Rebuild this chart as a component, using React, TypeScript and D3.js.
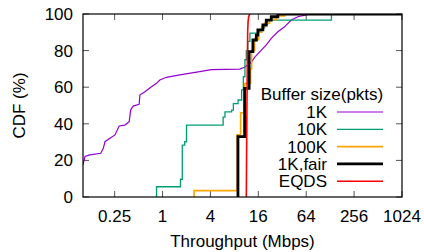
import React, { useEffect, useRef } from 'react';
import * as d3 from 'd3';

const xTicks = [0.25, 1, 4, 16, 64, 256, 1024];
const yTicks = [0, 20, 40, 60, 80, 100];

// [throughput (Mbps), CDF (%)]
const buf1K: [number, number][] = [
  [0.1, 17.5], [0.106, 22.2], [0.122, 23.0], [0.167, 23.9], [0.18, 26.6], [0.189, 30.2],
  [0.218, 32.1], [0.252, 33.9], [0.285, 38.8], [0.336, 39.3], [0.381, 41.2], [0.397, 47.5],
  [0.427, 49.7], [0.508, 50.6], [0.519, 55.7], [0.599, 57.5], [0.727, 60.3], [0.84, 62.1],
  [0.924, 63.9], [1.12, 65.4], [1.65, 66.7], [2.93, 68.5], [4.11, 69.6], [9.32, 69.9],
  [10.76, 70.9], [13.06, 73.6], [14.37, 76.3], [17.44, 80.3], [20.14, 83.1], [23.27, 86.7],
  [28.16, 90.3], [34.2, 93.0], [41.5, 96.7], [50.2, 98.5], [63.9, 99.5], [70.3, 100], [1024, 100],
];

const buf10K: [number, number][] = [
  [0.84, 0], [0.84, 5.6], [1.68, 9.7], [1.77, 28.4], [1.9, 30.2], [2.0, 39.3], [5.78, 43.6],
  [6.09, 46.5], [7.39, 47.5], [7.77, 51], [8.9, 53], [9.87, 58.5], [10.37, 65.7], [10.86, 75],
  [11.3, 80], [11.8, 85], [12.54, 89.6], [15.98, 90.3], [17.59, 92.5], [19.17, 94.5],
  [20.9, 96.7], [132.8, 100], [1024, 100],
];

const buf100K: [number, number][] = [
  [2.49, 0], [2.49, 3.5], [8.67, 34], [9.59, 46], [10.76, 62], [12.8, 70], [13.18, 80],
  [14.37, 86], [16.13, 90], [17.59, 93], [19.17, 95], [22.15, 97], [27.1, 99], [34.2, 100],
  [1024, 100],
];

const buf1KFair: [number, number][] = [
  [8.87, 0], [8.87, 33], [10.76, 59.4], [12.26, 79.4], [13.68, 85.8], [15.09, 88.5],
  [15.8, 91.3], [18.26, 94], [20.14, 96.7], [23.27, 98.5], [28.16, 100], [1024, 100],
];

const eqds: [number, number][] = [
  [11.3, 0], [11.5, 50], [11.75, 90], [11.9, 96], [12.1, 98.5], [12.45, 100],
];

const series = [
  { name: '1K', data: buf1K, color: '#9400d3', width: 1.2, step: false },
  { name: '10K', data: buf10K, color: '#009e73', width: 1.3, step: true },
  { name: '100K', data: buf100K, color: '#ffa500', width: 1.6, step: true },
  { name: '1K,fair', data: buf1KFair, color: '#000000', width: 2.8, step: true },
  { name: 'EQDS', data: eqds, color: '#ff0000', width: 1.6, step: false },
];

const App = () => {
  const svgRef = useRef<SVGSVGElement>(null);

  useEffect(() => {
    const svg = d3.select(svgRef.current);
    svg.selectAll('*').remove();

    const left = 83, right = 402, top = 14, bottom = 197;
    const font = "'Liberation Sans', Arial, sans-serif";
    const fs = 17;

    const x = d3.scaleLog().base(2).domain([0.1, 1024]).range([left, right]);
    const y = d3.scaleLinear().domain([0, 100]).range([bottom, top]);

    svg.append('defs').append('clipPath')
      .attr('id', 'plot-clip')
      .append('rect')
      .attr('x', left).attr('y', top)
      .attr('width', right - left).attr('height', bottom - top);

    // Ticks (inward, mirrored)
    const ticks = svg.append('g').attr('stroke', '#555').attr('stroke-width', 1);
    xTicks.forEach(t => {
      ticks.append('line').attr('x1', x(t)).attr('x2', x(t)).attr('y1', bottom).attr('y2', bottom - 6);
      ticks.append('line').attr('x1', x(t)).attr('x2', x(t)).attr('y1', top).attr('y2', top + 6);
    });
    yTicks.forEach(t => {
      ticks.append('line').attr('x1', left).attr('x2', left + 6).attr('y1', y(t)).attr('y2', y(t));
      ticks.append('line').attr('x1', right).attr('x2', right - 6).attr('y1', y(t)).attr('y2', y(t));
    });

    // Tick labels
    svg.append('g').selectAll('text')
      .data(xTicks)
      .join('text')
      .attr('x', d => x(d))
      .attr('y', 222)
      .attr('text-anchor', 'middle')
      .attr('font-family', font)
      .attr('font-size', fs)
      .text(d => String(d));

    svg.append('g').selectAll('text')
      .data(yTicks)
      .join('text')
      .attr('x', 73)
      .attr('y', d => y(d) + 6)
      .attr('text-anchor', 'end')
      .attr('font-family', font)
      .attr('font-size', fs)
      .text(d => String(d));

    // Axis titles
    svg.append('text')
      .attr('x', (left + right) / 2)
      .attr('y', 247)
      .attr('text-anchor', 'middle')
      .attr('font-family', font)
      .attr('font-size', fs)
      .text('Throughput (Mbps)');

    svg.append('text')
      .attr('transform', `translate(25,${(top + bottom) / 2}) rotate(-90)`)
      .attr('text-anchor', 'middle')
      .attr('font-family', font)
      .attr('font-size', fs)
      .text('CDF (%)');

    // Lines
    const g = svg.append('g').attr('clip-path', 'url(#plot-clip)');
    series.forEach(s => {
      const line = d3.line<[number, number]>()
        .curve(s.step ? d3.curveStepAfter : d3.curveLinear)
        .x(d => x(d[0]))
        .y(d => y(d[1]));
      g.append('path')
        .datum(s.data)
        .attr('fill', 'none')
        .attr('stroke', s.color)
        .attr('stroke-width', s.width)
        .attr('d', line);
    });

    // Border
    svg.append('rect')
      .attr('x', left).attr('y', top)
      .attr('width', right - left).attr('height', bottom - top)
      .attr('fill', 'none')
      .attr('stroke', '#000')
      .attr('stroke-width', 1.2);

    // Legend
    const legend = svg.append('g').attr('font-family', font).attr('font-size', fs);
    legend.append('text')
      .attr('x', 322)
      .attr('y', 100)
      .attr('text-anchor', 'middle')
      .text('Buffer size(pkts)');
    series.forEach((s, i) => {
      const ly = 112 + i * 17.3;
      legend.append('text')
        .attr('x', 327)
        .attr('y', ly + 6)
        .attr('text-anchor', 'end')
        .text(s.name);
      legend.append('line')
        .attr('x1', 337).attr('x2', 383)
        .attr('y1', ly).attr('y2', ly)
        .attr('stroke', s.color)
        .attr('stroke-width', s.width);
    });
  }, []);

  return (
    <svg
      ref={svgRef}
      width="424"
      height="252"
      style={{ position: 'absolute', left: 0, top: 0, background: '#fff' }}
    ></svg>
  );
};

export default App;
